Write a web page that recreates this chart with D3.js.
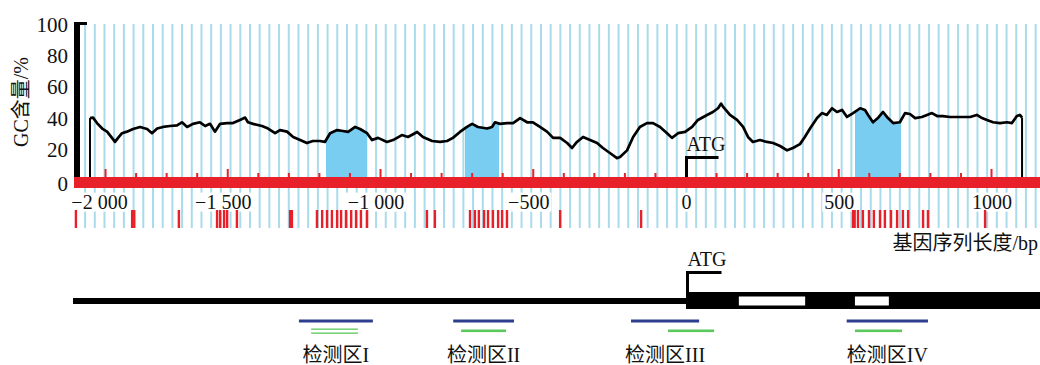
<!DOCTYPE html>
<html>
<head>
<meta charset="utf-8">
<script src="https://cdn.jsdelivr.net/npm/d3@7"></script>
<style>
  body { margin: 0; background: #fff; }
  text { font-family: "Liberation Serif", "Noto Sans CJK SC", serif; fill: #111; }
</style>
</head>
<body>
<svg width="1040" height="365"></svg>
<script>
// GC content curve: [position (bp), GC %]
var gcPos = [-1951,-1941,-1928,-1911,-1895,-1879,-1869,-1859,-1846,-1830,-1810,-1787,-1764,-1748,-1731,-1712,-1689,-1666,-1650,-1633,
  -1614,-1591,-1574,-1558,-1542,-1525,-1502,-1483,-1460,-1443,-1434,-1417,-1388,-1368,-1345,-1329,-1306,-1286,-1263,-1241,
  -1221,-1198,-1182,-1165,-1142,-1123,-1106,-1083,-1067,-1044,-1028,-1008,-979,-959,-930,-910,-880,-861,-831,-805,
  -782,-763,-740,-717,-700,-681,-651,-635,-625,-609,-586,-566,-543,-520,-501,-478,-455,-435,-412,-389,
  -373,-357,-337,-314,-291,-272,-249,-226,-216,-193,-173,-151,-128,-108,-85,-62,-46,-26,-3,20,
  39,69,88,105,115,121,144,167,187,203,219,242,265,285,308,331,350,373,389,406,
  429,445,461,478,494,511,527,547,570,586,596,612,628,645,661,678,700,717,733,750,
  772,789,805,822,841,864,887,907,930,952,969,985,1005,1028,1051,1067,1083,1093,1100];
var gcVal = [39.7,40,36.5,33,31,27,24.4,27,30,31,32.7,34,32.7,30,33,34,34.6,35,37,34,
  36,37,34.6,36,31,36,36.5,36.5,38.5,40,37,36,34.6,33,30,32,31,27.6,25.6,23.7,
  25,25,24.4,30,32,31.4,30.8,34,32.7,30,25.6,27,24.4,25.6,28.8,27.6,30.8,27.6,25,24.4,
  25,27,30.8,34,36,34,33,34,37,36,36.5,36.5,39.7,37,37,34,31,27,27,23.7,
  20.5,24.4,27.6,25.6,23.7,20.5,17.3,14,14.7,19,27.6,34,36.5,36.5,34,30,27,30,30.8,34,
  38.5,41.7,43.6,46,49,47,41.7,38.5,34,27.6,24.4,25.6,24.4,23.7,21.8,19,20.5,23,27.6,33,
  39.7,42.9,41.7,46,43.6,44.9,40.4,42.9,46,44.9,41.7,37,39.7,43.6,39.7,36.5,37,42.9,42.3,39.7,
  40.4,41.7,42.9,41,41,40.4,40.4,40.4,40.4,41.7,39.7,38.5,37,36.5,37,36.5,41,41.7,40];

var yTicks = [0, 20, 40, 60, 80, 100];
var xTicks = [-2000, -1500, -1000, -500, 0, 500, 1000];
var xTickLabels = ["\u22122 000", "\u22121 500", "\u22121 000", "\u2212500", "0", "500", "1000"];
var bigMarks = [-1900, -1500, -1000, -500, 500, 1000];

// CpG islands (shaded under the curve)
var islandStart = [-1178, -723, 553];
var islandEnd = [-1044, -612, 704];

// CpG sites (red marks under the axis)
var cpgSites = [-1997,-1813,-1806,-1660,-1535,-1525,-1512,-1502,-1470,-1296,-1290,
  -1208,-1191,-1175,-1159,-1142,-1129,-1113,-1096,-1080,-1064,-1044,
  -848,-822,-707,-691,-678,-661,-648,-632,-615,-602,-586,-412,-147,
  547,552,563,579,599,615,635,651,671,691,710,727,776,792,979];

// gene model
var geneEnd = 1160;
var intronStart = [173, 553];
var intronEnd = [390, 664];

// detection regions
var regionNames = ["检测区I", "检测区II", "检测区III", "检测区IV"];
var probeStart = [-1267, -762, -180, 526];
var probeEnd = [-1025, -563, 43, 792];
var ampStart = [-1227, -736, -59, 553];
var ampEnd = [-1074, -589, 92, 707];

var svg = d3.select("svg");
var red = "#e8202a", grid = "#a9dbec", isle = "#79cdf0";

var x = d3.scaleLinear().domain([0, 1000]).range([686, 991.5]);
var y = d3.scaleLinear().domain([0, 100]).range([180, 24]);
var barTop = 177, barBot = 188;

var gc = gcPos.map(function(p, i) { return [p, gcVal[i]]; });

// light blue vertical grid lines
var gridPos = d3.range(-1967, 1150, 31.75);
var g = svg.append("g");
g.selectAll("line.up").data(gridPos).enter().append("line")
  .attr("x1", function(d) { return x(d); }).attr("x2", function(d) { return x(d); })
  .attr("y1", 24).attr("y2", barTop)
  .attr("stroke", grid).attr("stroke-width", 2);
g.selectAll("line.dn").data(gridPos).enter().append("line")
  .attr("x1", function(d) { return x(d); }).attr("x2", function(d) { return x(d); })
  .attr("y1", barBot).attr("y2", 228)
  .attr("stroke", grid).attr("stroke-width", 2);

// CpG island shading
var area = d3.area().x(function(d) { return x(d[0]); }).y0(barTop).y1(function(d) { return y(d[1]); });
islandStart.forEach(function(s, i) {
  svg.append("clipPath").attr("id", "isl" + i).append("rect")
    .attr("x", x(s)).attr("y", 0).attr("width", x(islandEnd[i]) - x(s)).attr("height", barTop);
  svg.append("path").datum(gc).attr("d", area)
    .attr("fill", isle).attr("clip-path", "url(#isl" + i + ")");
});

// GC curve
var line = d3.line().x(function(d) { return x(d[0]); }).y(function(d) { return y(d[1]); });
svg.append("path").datum(gc).attr("d", line)
  .attr("fill", "none").attr("stroke", "#000").attr("stroke-width", 2.7).attr("stroke-linejoin", "round");
[gc[0], gc[gc.length - 1]].forEach(function(d) {
  svg.append("line").attr("x1", x(d[0])).attr("x2", x(d[0]))
    .attr("y1", y(d[1])).attr("y2", barTop).attr("stroke", "#000").attr("stroke-width", 2);
});

// red bar + marks
svg.append("rect").attr("x", x(-2000) - 1).attr("y", barTop).attr("width", 1040 - x(-2000) + 1)
  .attr("height", barBot - barTop).attr("fill", red);
svg.selectAll("rect.mk").data(d3.range(-1900, 1001, 100).filter(function(d) { return d !== 0; }))
  .enter().append("rect")
  .attr("x", function(d) { return x(d) - 1; })
  .attr("y", function(d) { return bigMarks.indexOf(d) >= 0 ? barTop - 8 : barTop - 4; })
  .attr("width", 2)
  .attr("height", function(d) { return bigMarks.indexOf(d) >= 0 ? 8 : 4; })
  .attr("fill", red);

// y axis
svg.append("rect").attr("x", 74).attr("y", 22).attr("width", 6).attr("height", barTop - 22).attr("fill", "#000");
svg.append("rect").attr("x", 74).attr("y", 22).attr("width", 13).attr("height", 3).attr("fill", "#000");
var ya = svg.append("g").attr("transform", "translate(77,0)")
  .call(d3.axisLeft(y).tickValues(yTicks).tickSize(0).tickPadding(9));
ya.select(".domain").remove();
ya.selectAll("text").style("font-size", "21px").style("font-family", "Liberation Serif")
  .attr("dy", function(d) { return d === 0 ? "0.5em" : "0.36em"; });

svg.append("text").attr("transform", "translate(28,102) rotate(-90)")
  .attr("text-anchor", "middle").style("font-size", "20px").text("GC含量/%");

// x axis labels with white backing
var xa = svg.append("g").attr("transform", "translate(0," + barBot + ")")
  .call(d3.axisBottom(x).tickValues(xTicks).tickSize(0).tickPadding(5)
    .tickFormat(function(d, i) { return xTickLabels[i]; }));
xa.select(".domain").remove();
xa.selectAll("text").style("font-size", "20px").style("font-family", "Liberation Serif")
  .attr("dx", function(d) { return d === -2000 ? "1.2em" : (d < 0 ? "-0.25em" : 0); })
  .attr("dy", "0.78em");
xa.selectAll(".tick").each(function() {
  var t = d3.select(this).select("text"), b = t.node().getBBox();
  d3.select(this).insert("rect", "text").attr("x", b.x - 2).attr("y", b.y + 2)
    .attr("width", b.width + 4).attr("height", b.height - 3).attr("fill", "#fff");
});

// CpG sites
svg.selectAll("rect.cpg").data(cpgSites).enter().append("rect")
  .attr("x", function(d) { return x(d) - 1.2; }).attr("y", 210)
  .attr("width", 2.4).attr("height", 18).attr("fill", red);

svg.append("text").attr("x", 1038).attr("y", 250).attr("text-anchor", "end")
  .style("font-size", "20px").text("基因序列长度/bp");

// ATG bracket
function atg(x0, yTop, yBot, len) {
  svg.append("path")
    .attr("d", "M" + x0 + "," + yBot + "V" + yTop + "H" + (x0 + len))
    .attr("fill", "none").attr("stroke", "#000").attr("stroke-width", 3);
  svg.append("text").attr("x", x0).attr("y", yTop - 7).style("font-size", "20px").text("ATG");
}
atg(x(0) + 0.5, 157.5, barTop, 32);

// gene model
svg.append("rect").attr("x", x(-2000) - 2).attr("y", 298).attr("width", x(0) - x(-2000) + 2)
  .attr("height", 6).attr("fill", "#000");
svg.append("rect").attr("x", x(0)).attr("y", 292).attr("width", x(geneEnd) - x(0))
  .attr("height", 17).attr("fill", "#000");
intronStart.forEach(function(s, i) {
  svg.append("rect").attr("x", x(s)).attr("y", 296.5).attr("width", x(intronEnd[i]) - x(s))
    .attr("height", 9).attr("fill", "#fff");
});
atg(x(0) + 1.5, 272.5, 292, 34);

// detection regions
regionNames.forEach(function(name, i) {
  svg.append("rect").attr("x", x(probeStart[i])).attr("y", 319.5)
    .attr("width", x(probeEnd[i]) - x(probeStart[i])).attr("height", 3).attr("fill", "#2d3e8e");
  if (i === 0) {
    [328.5, 332.5].forEach(function(yy) {
      svg.append("rect").attr("x", x(ampStart[i])).attr("y", yy)
        .attr("width", x(ampEnd[i]) - x(ampStart[i])).attr("height", 1.3).attr("fill", "#5cc85c");
    });
  } else {
    svg.append("rect").attr("x", x(ampStart[i])).attr("y", 329.5)
      .attr("width", x(ampEnd[i]) - x(ampStart[i])).attr("height", 2.6).attr("fill", "#5cc85c");
  }
  svg.append("text").attr("x", (x(probeStart[i]) + x(probeEnd[i])) / 2).attr("y", 362)
    .attr("text-anchor", "middle").style("font-size", "20px").text(name);
});
</script>
</body>
</html>
